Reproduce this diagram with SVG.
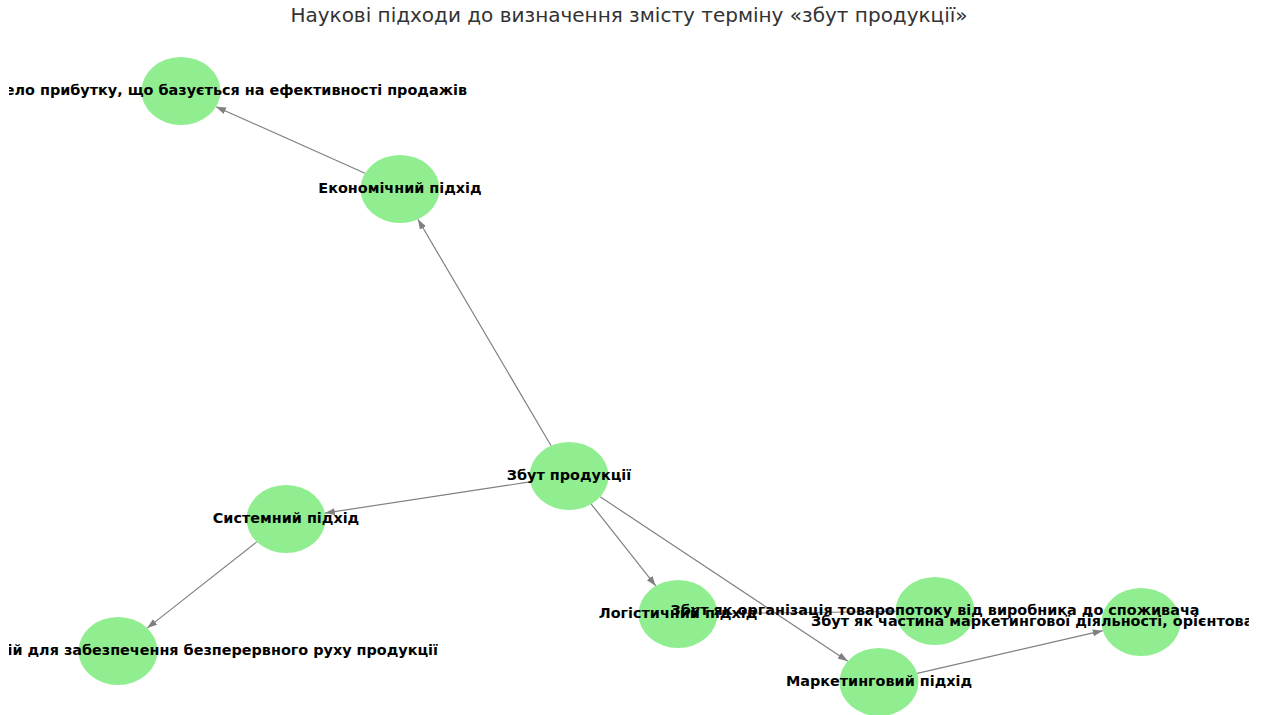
<svg xmlns="http://www.w3.org/2000/svg" width="1266" height="715" viewBox="0 0 1266 715">
<style>
.node{fill:#90EE90;}
.lbl{font-family:"DejaVu Sans","Noto Sans",sans-serif;font-size:14.4px;font-weight:bold;fill:#000;dominant-baseline:central;}
.edge{stroke:#808080;stroke-width:1.2;fill:none;marker-end:url(#arr);}
.title{font-family:"DejaVu Sans","Noto Sans",sans-serif;font-size:20px;fill:#333;}
</style>
<defs>
<marker id="arr" markerUnits="userSpaceOnUse" markerWidth="11" markerHeight="8" refX="10" refY="3.5" orient="auto">
<path d="M0,0 L10,3.5 L0,7 z" fill="#808080"/>
</marker>
<clipPath id="ax"><rect x="9" y="0" width="1240" height="715"/></clipPath>
</defs>
<rect width="1266" height="715" fill="#fff"/>
<text class="title" x="629" y="22" text-anchor="middle">Наукові підходи до визначення змісту терміну «збут продукції»</text>
<g id="connectors">
<line class="edge" x1="551.1" y1="445.7" x2="417.9" y2="219.3"/>
<line class="edge" x1="365" y1="173.3" x2="216" y2="106.7"/>
<line class="edge" x1="530.1" y1="481.9" x2="324.9" y2="513.1"/>
<line class="edge" x1="256.8" y1="541.9" x2="147.2" y2="628.1"/>
<line class="edge" x1="591.2" y1="504.1" x2="655.8" y2="585.9"/>
<line class="edge" x1="600.2" y1="496.8" x2="847.8" y2="661.2"/>
<line class="edge" x1="717.5" y1="613.5" x2="895.5" y2="611.5"/>
<line class="edge" x1="917.2" y1="673.3" x2="1102.8" y2="630.7"/>
</g>
<g id="n-zbut"><ellipse class="node" cx="569" cy="476" rx="39.5" ry="34"/></g>
<g id="n-econ"><ellipse class="node" cx="400" cy="189" rx="39.5" ry="34"/></g>
<g id="n-profit"><ellipse class="node" cx="181" cy="91" rx="39.5" ry="34"/></g>
<g id="n-system"><ellipse class="node" cx="286" cy="519" rx="39.5" ry="34"/></g>
<g id="n-move"><ellipse class="node" cx="118" cy="651" rx="39.5" ry="34"/></g>
<g id="n-logist"><ellipse class="node" cx="678" cy="614" rx="39.5" ry="34"/></g>
<g id="n-flow"><ellipse class="node" cx="935" cy="611" rx="39.5" ry="34"/></g>
<g id="n-market"><ellipse class="node" cx="879" cy="682" rx="39.5" ry="34"/></g>
<g id="n-marketpart"><ellipse class="node" cx="1141" cy="622" rx="39.5" ry="34"/></g>
<g id="labels" clip-path="url(#ax)">
<text class="lbl" x="569" y="475" text-anchor="middle">Збут продукції</text>
<text class="lbl" x="400" y="188" text-anchor="middle">Економічний підхід</text>
<text class="lbl" x="467" y="90" text-anchor="end">ело прибутку, що базується на ефективності продажів</text>
<text class="lbl" x="286" y="518" text-anchor="middle">Системний підхід</text>
<text class="lbl" x="438" y="650" text-anchor="end">ій для забезпечення безперервного руху продукції</text>
<text class="lbl" x="678" y="613" text-anchor="middle">Логістичний підхід</text>
<text class="lbl" x="935" y="610" text-anchor="middle">Збут як організація товаропотоку від виробника до споживача</text>
<text class="lbl" x="879" y="681" text-anchor="middle">Маркетинговий підхід</text>
<text class="lbl" x="811" y="621" text-anchor="start">Збут як частина маркетингової діяльності, орієнтова</text>
</g>
</svg>
